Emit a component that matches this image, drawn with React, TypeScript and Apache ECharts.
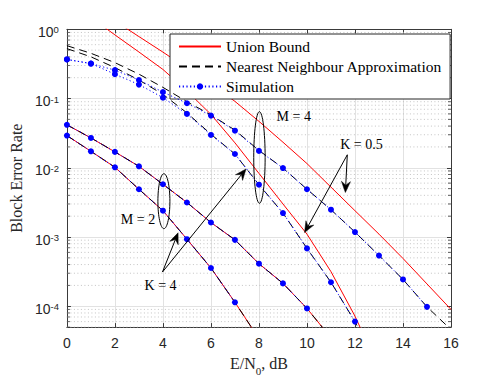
import React, { useEffect, useRef } from "react";
import * as echarts from "echarts";

// E/N0 in dB (x values)
const snrDb = [0, 1, 2, 3, 4, 5, 6, 7, 8, 9, 10, 11, 12, 13, 14, 15, 16];

// M = 4, K = 0.5
const unionM4K05 = [3.6, 2.2, 1.32, 0.785, 0.468, 0.275, 0.162, 0.091, 0.0468, 0.0234, 0.0115, 5.25e-3, 2.4e-3, 1.1e-3, 4.9e-4, 2.1e-4, 9.0e-5];
const nnM4K05 = [0.58, 0.45, 0.33, 0.225, 0.145, 0.09, 0.058, 0.035, 0.0178, 9.9e-3, 4.9e-3, 2.48e-3, 1.18e-3, 5.4e-4, 2.44e-4, 9.8e-5, 4.6e-5];
const simM4K05 = [0.367, 0.32, 0.257, 0.185, 0.124, 0.0855, 0.0567, 0.0343, 0.01754, 9.9e-3, 4.9e-3, 2.48e-3, 1.18e-3, 5.4e-4, 2.44e-4, 9.8e-5, null];

// M = 4, K = 4
const unionM4K4 = [2.5, 1.48, 0.83, 0.47, 0.263, 0.129, 0.059, 0.0229, 8.3e-3, 3.0e-3, 1.1e-3, 3.16e-4, 7.2e-5, 1.26e-5, null, null, null];
const nnM4K4 = [0.526, 0.4, 0.28, 0.185, 0.115, 0.062, 0.0305, 0.0158, 5.7e-3, 2.22e-3, 6.85e-4, 2.22e-4, 6.0e-5, 1.2e-5, null, null, null];
const simM4K4 = [0.367, 0.32, 0.225, 0.159, 0.103, 0.06, 0.0298, 0.0158, 5.7e-3, 2.22e-3, 6.85e-4, 2.22e-4, 6.0e-5, null, null, null, null];

// M = 2, K = 0.5
const unionM2K05 = [0.0417, 0.027, 0.01696, 0.0105, 5.78e-3, 3.15e-3, 1.62e-3, 9.1e-4, 4.12e-4, 2.14e-4, 9.3e-5, 3.5e-5, null, null, null, null, null];
const nnM2K05 = [0.0417, 0.027, 0.01696, 0.0105, 5.78e-3, 3.15e-3, 1.62e-3, 9.1e-4, 4.12e-4, 2.14e-4, 9.3e-5, 3.5e-5, null, null, null, null, null];
const simM2K05 = [0.0417, 0.027, 0.01696, 0.0105, 5.78e-3, 3.15e-3, 1.62e-3, 9.1e-4, 4.12e-4, 2.14e-4, 9.3e-5, null, null, null, null, null, null];

// M = 2, K = 4
const unionM2K4 = [0.0292, 0.0173, 0.01016, 4.9e-3, 2.4e-3, 9.3e-4, 3.57e-4, 1.14e-4, 3.4e-5, null, null, null, null, null, null, null, null];
const nnM2K4 = [0.0292, 0.0173, 0.01016, 4.9e-3, 2.4e-3, 9.3e-4, 3.57e-4, 1.14e-4, 3.4e-5, null, null, null, null, null, null, null, null];
const simM2K4 = [0.0292, 0.0173, 0.01016, 4.9e-3, 2.4e-3, 9.3e-4, 3.57e-4, 1.14e-4, null, null, null, null, null, null, null, null, null];

const legendNames = ["Union Bound", "Nearest Neighbour Approximation", "Simulation"];
const xTicks = [0, 2, 4, 6, 8, 10, 12, 14, 16];

// Annotation placement (data coordinates)
const annotationTexts = [
  { text: "M = 4", at: [9.45, 0.0554] },
  { text: "K = 0.5", at: [12.27, 0.0215] },
  { text: "M = 2", at: [2.96, 1.8e-3] },
  { text: "K = 4", at: [3.9, 2.0e-4] },
];
const annotationEllipses = [
  { center: [4.04, 3.3e-3], top: 8.2e-3, bottom: 1.32e-3, rx: 6 },
  { center: [8.02, 0.0141], top: 0.0646, bottom: 3.07e-3, rx: 5.7 },
];
const annotationArrows = [
  { from: [3.98, 3.12e-4], to: [4.63, 1.15e-3] },
  { from: [3.98, 3.12e-4], to: [7.46, 9.6e-3] },
  { from: [11.68, 0.0154], to: [11.6, 4.4e-3] },
  { from: [11.68, 0.0154], to: [9.9, 1.16e-3] },
];

const SERIF = "Liberation Serif";
const SANS = "Liberation Sans";
const AXIS_COLOR = "#3a3a3a";

function pairs(vals: (number | null)[]) {
  const out: number[][] = [];
  snrDb.forEach((x, i) => {
    const v = vals[i];
    if (v != null) out.push([x, v]);
  });
  return out;
}

function minorValues() {
  const out: number[][] = [];
  for (let e = -5; e < 0; e++) {
    for (let m = 2; m <= 9; m++) {
      const v = m * Math.pow(10, e);
      if (v >= 5e-5 && v < 1) out.push([0, v]);
    }
  }
  return out;
}

export default function App() {
  const ref = useRef<HTMLDivElement>(null);
  useEffect(() => {
    if (!ref.current) return;
    const chart = echarts.init(ref.current, undefined, { renderer: "svg" });

    const unionStyle = {
      type: "line",
      name: legendNames[0],
      symbol: "none",
      lineStyle: { color: "#ff0000", width: 1 },
      itemStyle: { color: "#ff0000" },
      z: 3,
      silent: true,
    };
    const nnStyle = {
      type: "line",
      name: legendNames[1],
      symbol: "none",
      lineStyle: { color: "#000000", width: 1, type: [8, 5] },
      itemStyle: { color: "#000000" },
      z: 4,
      silent: true,
    };
    const simStyle = {
      type: "line",
      name: legendNames[2],
      symbol: "circle",
      symbolSize: 6,
      showSymbol: true,
      lineStyle: { color: "#0000ff", width: 1, type: [1.2, 2.5] },
      itemStyle: { color: "#0000ff" },
      z: 5,
      silent: true,
    };

    const minorSeries = {
      type: "custom",
      name: "minor",
      silent: true,
      z: 1,
      data: minorValues(),
      clip: false,
      renderItem: (params: any, api: any) => {
        const v = api.value(1);
        const p0 = api.coord([0, v]);
        const p1 = api.coord([16, v]);
        return {
          type: "group",
          children: [
            { type: "line", shape: { x1: p0[0], y1: p0[1], x2: p1[0], y2: p1[1] }, style: { stroke: "#b5b5b5", lineWidth: 0.8, lineDash: [1, 2.5] } },
            { type: "line", shape: { x1: p0[0], y1: p0[1], x2: p0[0] + 3, y2: p0[1] }, style: { stroke: AXIS_COLOR, lineWidth: 0.8 } },
            { type: "line", shape: { x1: p1[0], y1: p1[1], x2: p1[0] - 3, y2: p1[1] }, style: { stroke: AXIS_COLOR, lineWidth: 0.8 } },
          ],
        };
      },
    };

    const yLabelFormatter = (v: number) => {
      const e = Math.log10(v);
      const r = Math.round(e);
      if (Math.abs(e - r) > 1e-6) return "";
      return `{b|10}{s|${r}}`;
    };

    const option: any = {
      animation: false,
      backgroundColor: "#ffffff",
      grid: { left: 65, top: 29.3, width: 386, height: 303 },
      legend: {
        data: [
          { name: legendNames[0], itemStyle: { opacity: 0 } },
          { name: legendNames[1], itemStyle: { opacity: 0 } },
          { name: legendNames[2] },
        ],
        orient: "vertical",
        left: 170,
        top: 34,
        itemWidth: 42,
        itemHeight: 8,
        itemGap: 4,
        padding: [4.5, 8, 4.5, 8],
        backgroundColor: "#ffffff",
        borderColor: "#262626",
        borderWidth: 1,
        borderRadius: 0,
        selectedMode: false,
        textStyle: { fontFamily: SERIF, fontSize: 15.5, color: "#000", lineHeight: 15 },
      },
      xAxis: [
        {
          type: "value",
          min: 0,
          max: 16,
          interval: 2,
          position: "bottom",
          axisLine: { show: true, onZero: false, lineStyle: { color: AXIS_COLOR, width: 1 } },
          axisTick: { show: true, inside: true, length: 4, lineStyle: { color: AXIS_COLOR } },
          axisLabel: {
            fontFamily: SANS,
            fontSize: 14,
            color: "#262626",
            margin: 9,
            formatter: (v: number) => (xTicks.includes(v) ? String(v) : ""),
          },
          splitLine: { show: true, lineStyle: { color: "#e2e2e2", width: 1 } },
          name: "{n|E/N}{sub|0}{n|, dB}",
          nameLocation: "middle",
          nameGap: 25,
          nameTextStyle: {
            rich: {
              n: { fontFamily: SERIF, fontSize: 16, lineHeight: 16, color: "#262626", verticalAlign: "top" },
              sub: { fontFamily: SERIF, fontSize: 11, lineHeight: 11, color: "#262626", verticalAlign: "top", padding: [10, 0, 0, 0] },
            },
          },
        },
        {
          type: "value",
          min: 0,
          max: 16,
          interval: 2,
          position: "top",
          axisLine: { show: true, onZero: false, lineStyle: { color: AXIS_COLOR, width: 1 } },
          axisTick: { show: true, inside: true, length: 4, lineStyle: { color: AXIS_COLOR } },
          axisLabel: { show: false },
          splitLine: { show: false },
        },
      ],
      yAxis: [
        {
          type: "log",
          logBase: 10,
          min: 5e-5,
          max: 1,
          position: "left",
          axisLine: { show: true, onZero: false, lineStyle: { color: AXIS_COLOR, width: 1 } },
          axisTick: { show: true, inside: true, length: 4, lineStyle: { color: AXIS_COLOR } },
          axisLabel: {
            margin: 8,
            padding: [5, 0, 0, 0],
            formatter: yLabelFormatter,
            rich: {
              b: { fontFamily: SANS, fontSize: 14, lineHeight: 14, color: "#262626", verticalAlign: "bottom", padding: [3, 0, 0, 0] },
              s: { fontFamily: SANS, fontSize: 9.5, lineHeight: 10, color: "#262626", verticalAlign: "top" },
            },
          },
          splitLine: { show: true, lineStyle: { color: "#e2e2e2", width: 1 } },
          name: "Block Error Rate",
          nameLocation: "middle",
          nameGap: 33,
          nameTextStyle: { fontFamily: SERIF, fontSize: 16, color: "#262626" },
        },
        {
          type: "log",
          logBase: 10,
          min: 5e-5,
          max: 1,
          position: "right",
          axisLine: { show: true, onZero: false, lineStyle: { color: AXIS_COLOR, width: 1 } },
          axisTick: { show: true, inside: true, length: 4, lineStyle: { color: AXIS_COLOR } },
          axisLabel: { show: false },
          splitLine: { show: false },
        },
      ],
      series: [
        minorSeries,
        { ...unionStyle, data: pairs(unionM4K05) },
        { ...unionStyle, data: pairs(unionM4K4) },
        { ...unionStyle, data: pairs(unionM2K05) },
        { ...unionStyle, data: pairs(unionM2K4) },
        { ...nnStyle, data: pairs(nnM4K05) },
        { ...nnStyle, data: pairs(nnM4K4) },
        { ...nnStyle, data: pairs(nnM2K05) },
        { ...nnStyle, data: pairs(nnM2K4) },
        { ...simStyle, data: pairs(simM4K05) },
        { ...simStyle, data: pairs(simM4K4) },
        { ...simStyle, data: pairs(simM2K05) },
        { ...simStyle, data: pairs(simM2K4) },
      ],
    };
    chart.setOption(option);

    const toPx = (p: number[]) => chart.convertToPixel({ seriesIndex: 1 }, p) as number[];
    const graphics: any[] = [];
    annotationEllipses.forEach((e) => {
      const c = toPx(e.center);
      const t = toPx([e.center[0], e.top]);
      const b = toPx([e.center[0], e.bottom]);
      graphics.push({
        type: "ellipse",
        silent: true,
        z: 100,
        shape: { cx: c[0], cy: (t[1] + b[1]) / 2, rx: e.rx, ry: (b[1] - t[1]) / 2 },
        style: { fill: "none", stroke: "#000", lineWidth: 1 },
      });
    });
    annotationArrows.forEach((a) => {
      const f = toPx(a.from);
      const t = toPx(a.to);
      const dx = t[0] - f[0];
      const dy = t[1] - f[1];
      const len = Math.sqrt(dx * dx + dy * dy);
      const ux = dx / len;
      const uy = dy / len;
      const nx = -uy;
      const ny = ux;
      const L = 11;
      const W = 4.5;
      const notch = [t[0] - ux * L * 0.65, t[1] - uy * L * 0.65];
      graphics.push({
        type: "line",
        silent: true,
        z: 100,
        shape: { x1: f[0], y1: f[1], x2: notch[0], y2: notch[1] },
        style: { stroke: "#000", lineWidth: 1 },
      });
      graphics.push({
        type: "polygon",
        silent: true,
        z: 100,
        shape: {
          points: [
            [t[0], t[1]],
            [t[0] - ux * L + nx * W, t[1] - uy * L + ny * W],
            notch,
            [t[0] - ux * L - nx * W, t[1] - uy * L - ny * W],
          ],
        },
        style: { fill: "#000", stroke: "#000", lineWidth: 0.5 },
      });
    });
    annotationTexts.forEach((a) => {
      const p = toPx(a.at);
      graphics.push({
        type: "text",
        silent: true,
        z: 101,
        x: p[0],
        y: p[1],
        style: {
          text: a.text,
          fontFamily: SERIF,
          fontSize: 14,
          fill: "#000",
          align: "center",
          verticalAlign: "middle",
          textAlign: "center",
          textVerticalAlign: "middle",
        },
      });
    });
    chart.setOption({ graphic: graphics });

    return () => chart.dispose();
  }, []);

  return (
    <div
      ref={ref}
      style={{ position: "fixed", left: 0, top: 0, width: 498, height: 381, background: "#fff" }}
    />
  );
}
